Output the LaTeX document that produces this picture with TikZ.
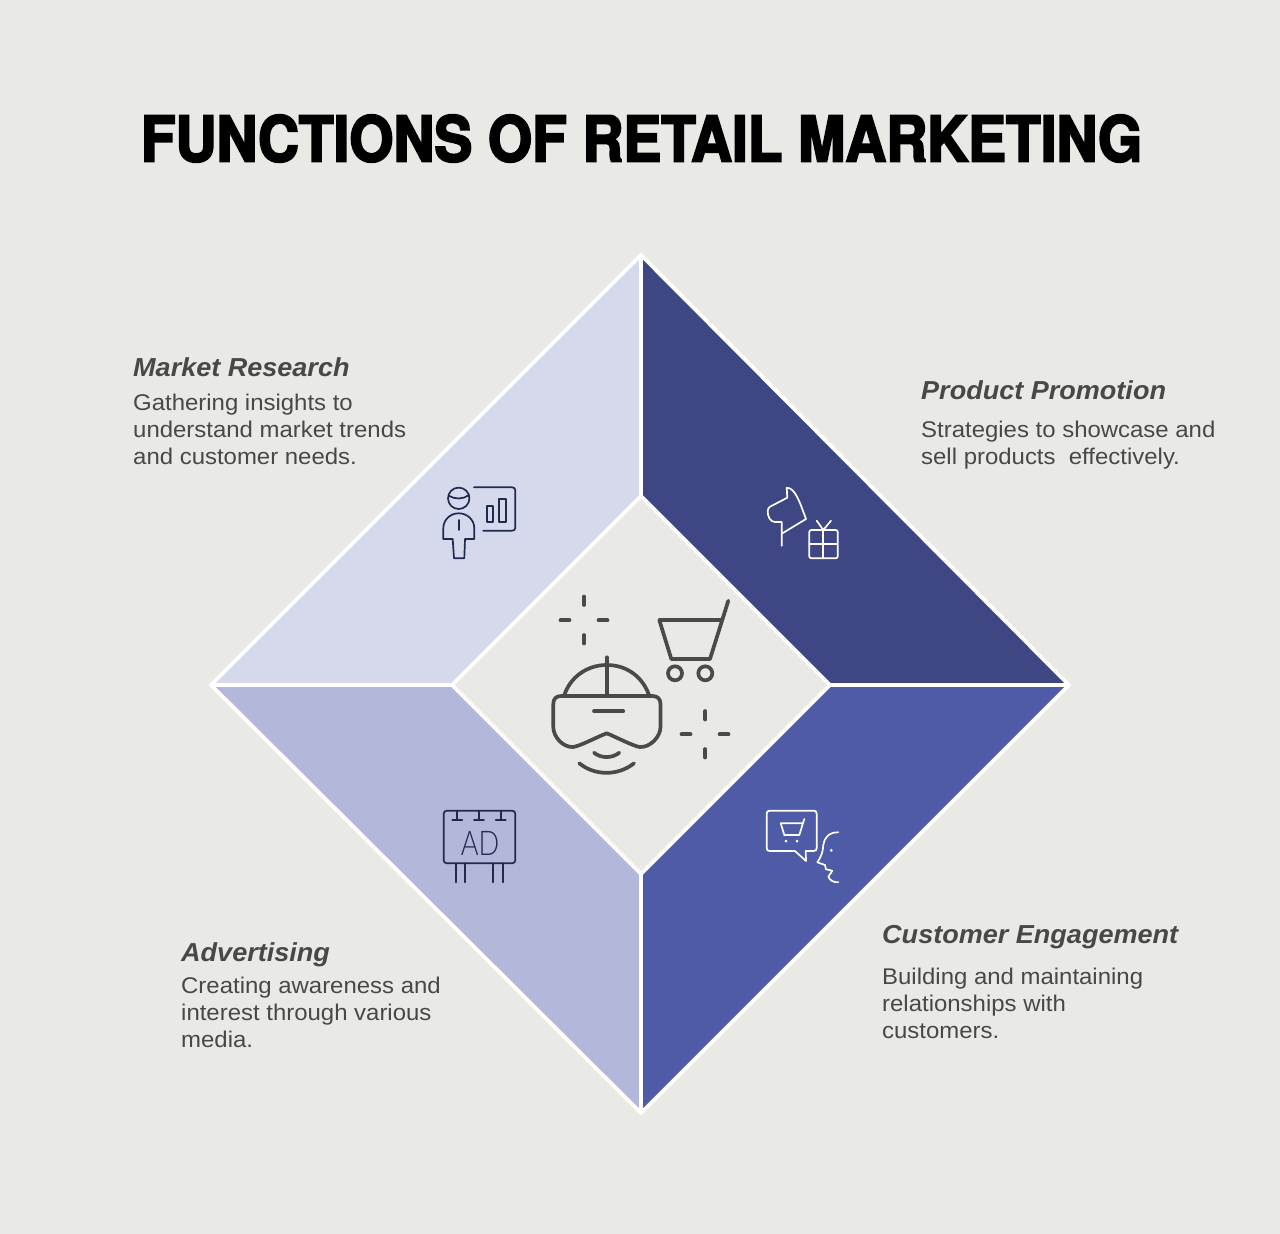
\documentclass[tikz,border=0pt]{standalone}
\usepackage{fontspec}
\setmainfont{Liberation Sans}
\newfontfamily\titlefont[FakeStretch=0.9,FakeBold=3.2]{TeX Gyre Heros Bold}
\newfontfamily\bodyfont[FakeStretch=1.055]{Liberation Sans}
\newfontfamily\headfont[FakeStretch=1.04]{Liberation Sans Bold Italic}
\newfontfamily\adfont[FakeStretch=0.8]{Lato Light}
\definecolor{bgc}{HTML}{E9EAE6}
\definecolor{pa}{HTML}{D6D9EC}
\definecolor{pb}{HTML}{3E4684}
\definecolor{pc}{HTML}{4E5BA6}
\definecolor{pd}{HTML}{B3B7DA}
\definecolor{txt}{HTML}{484848}
\definecolor{navy}{HTML}{1E2A50}
\definecolor{ctr}{HTML}{4A4A4A}
\tikzset{
  panel/.style={draw=white,line width=3.8pt,line join=round},
  head/.style={anchor=north west,inner sep=0pt,align=left,text=txt,font=\headfont\fontsize{26}{31}\selectfont},
  desc/.style={anchor=north west,inner sep=0pt,align=left,text=txt,font=\bodyfont\fontsize{22.7}{27}\selectfont},
  central/.style={draw=ctr,line width=3.7pt,line cap=round,line join=round},
  darkicon/.style={draw=navy,line width=1.7pt,line cap=round,line join=round},
  lighticon/.style={draw=white,line width=1.7pt,line cap=round,line join=round}
}
\begin{document}
\begin{tikzpicture}[x=1pt,y=-1pt]
\useasboundingbox (0,0) rectangle (1280,1234);
\fill[bgc] (0,0) rectangle (1280,1234);
\node[anchor=center,inner sep=0pt,font=\titlefont\fontsize{63}{80}\selectfont,text=black] (title) at (641.5,138.5) {FUNCTIONS OF RETAIL MARKETING};
% panels
\path[panel,fill=pa] (641,255) -- (641,496) -- (452,685) -- (211,685) -- cycle;
\path[panel,fill=pb] (641,255) -- (1069,685) -- (830,685) -- (641,496) -- cycle;
\path[panel,fill=pc] (1069,685) -- (641,1113) -- (641,874) -- (830,685) -- cycle;
\path[panel,fill=pd] (211,685) -- (452,685) -- (641,874) -- (641,1113) -- cycle;
% text
\node[head] (h1) at (133,357) {Market Research};
\node[desc] (d1) at (133,394) {Gathering insights to\\understand market trends\\and customer needs.};
\node[head] (h2) at (921,380) {Product Promotion};
\node[desc] (d2) at (921,421) {Strategies to showcase and\\sell products\ \ effectively.};
\node[head] (h3) at (882,925) {Customer Engagement};
\node[desc] (d3) at (882,968) {Building and maintaining\\relationships with\\customers.};
\node[head] (h4) at (181,942) {Advertising};
\node[desc] (d4) at (181,977) {Creating awareness and\\interest through various\\media.};
% central icon
\begin{scope}[central]
\draw (584,596.5) -- (584,605); \draw (584,635) -- (584,643.5);
\draw (560.5,620.3) -- (569.5,620.3); \draw (598.5,620.3) -- (607.5,620.3);
\draw (705.3,711) -- (705.3,719.5); \draw (705.3,749) -- (705.3,757.5);
\draw (681.5,734.3) -- (690.5,734.3); \draw (719.5,734.3) -- (728.5,734.3);
\draw (728.3,600.7) -- (710,659) -- (671.3,659) -- (659.3,620) -- (720.7,620);
\draw (675,673.3) circle (7);
\draw (705.3,673.3) circle (7);
\draw (564,696) .. controls (570,677) and (587,665) .. (606.7,665) .. controls (627,665) and (643,677) .. (649.3,696);
\draw (606.7,657.3) -- (606.7,696);
\draw (561,696) -- (652.5,696) .. controls (657.5,696) and (660.5,699) .. (660.5,704) -- (660.5,727)
  .. controls (660.5,737) and (650,747.5) .. (640,747) .. controls (634,746.5) and (616,737) .. (606.7,733.3)
  .. controls (597,737) and (579,746.5) .. (573,747) .. controls (563,747.5) and (553.3,737) .. (553.3,727)
  -- (553.3,704) .. controls (553.3,699) and (556,696) .. (561,696) -- cycle;
\draw (594,711.3) -- (623.3,711.3);
\draw (594,752.7) .. controls (601,758.5) and (612,758.5) .. (619.3,752.7);
\draw (579.3,763.3) .. controls (595,776) and (618,776) .. (634,763.3);
\end{scope}
% market research icon
\begin{scope}[darkicon]
\draw (458.7,498.3) circle (10.7);
\draw (448.7,495.7) .. controls (455,499.5) and (463,499.5) .. (469,495);
\draw (454,558.3) -- (452.7,539) -- (443.3,539) -- (443.3,528.3) .. controls (443.3,520) and (450,513.3) .. (458.7,513.3) .. controls (467.5,513.3) and (474.3,520) .. (474.3,528.3) -- (474.3,539) -- (465,539) -- (464.3,558.3) -- cycle;
\draw (458.7,520) -- (458.7,530);
\draw (474,487.3) -- (512,487.3) .. controls (514.3,487.3) and (515.3,488.5) .. (515.3,490.5) -- (515.3,527.5) .. controls (515.3,529.7) and (514.3,530.7) .. (512,530.7) -- (483.3,530.7);
\draw (486.7,505.7) rectangle (493.3,522);
\draw (499.3,499.3) rectangle (506,522);
\end{scope}
% product promotion icon
\begin{scope}[lighticon]
\draw (781.7,545.7) -- (781.7,522) -- (775,522) .. controls (770,522) and (767.7,516) .. (767.7,511.7) .. controls (767.7,509) and (768.5,507.5) .. (770,506.7) -- (787.3,497.7) -- (786.7,487.7) .. controls (795,488) and (799,500) .. (806,519) -- (781.7,533.7);
\draw[rounded corners=2pt] (809.3,530) rectangle (837.7,558.3);
\draw (809.3,544) -- (837.7,544);
\draw (823.3,530) -- (823.3,558.3);
\draw (816.7,520.7) -- (823.3,530) -- (831,520.7);
\end{scope}
% advertising icon
\begin{scope}[darkicon]
\draw[rounded corners=3pt] (443.7,810.7) rectangle (515.3,863.3);
\foreach \tx in {457.3,479,500.7}{
  \draw (\tx,810.7) -- (\tx,820);
  \draw (\tx-5,820) -- (\tx+5,820);
}
\foreach \lx in {455.7,465.3,492.7,502.7}{
  \draw (\lx,863.3) -- (\lx,882.3);
}
\end{scope}
\node[inner sep=0pt,text=navy,font=\adfont\fontsize{34}{36}\selectfont] (adtext) at (480,843) {AD};
% customer engagement icon
\begin{scope}[lighticon]
\draw (805.7,851) -- (806,861) -- (795,851) -- (769.7,851) .. controls (767.7,851) and (766.7,850) .. (766.7,848) -- (766.7,813.7) .. controls (766.7,811.7) and (767.7,810.7) .. (769.7,810.7) -- (813.7,810.7) .. controls (815.7,810.7) and (816.7,811.7) .. (816.7,813.7) -- (816.7,848) .. controls (816.7,850) and (815.7,851) .. (813.7,851) -- cycle;
\draw (804.3,819) -- (799.3,835) -- (784.3,835) -- (780.7,823.3) -- (802.7,823.3);
\fill[white,draw=none] (786,841) circle (1.5);
\fill[white,draw=none] (797,841) circle (1.5);
\draw (838.3,832.3) .. controls (829,832) and (824,838) .. (823.3,845) .. controls (823,852) and (821,857) .. (817.3,862.3) -- (825,865) -- (826,869.3) -- (832.3,870.7) -- (828.3,876.7) .. controls (830,880.5) and (833,882.3) .. (838.3,882.3);
\fill[white,draw=none] (831.3,850.3) circle (1.5);
\end{scope}
\end{tikzpicture}
\end{document}
